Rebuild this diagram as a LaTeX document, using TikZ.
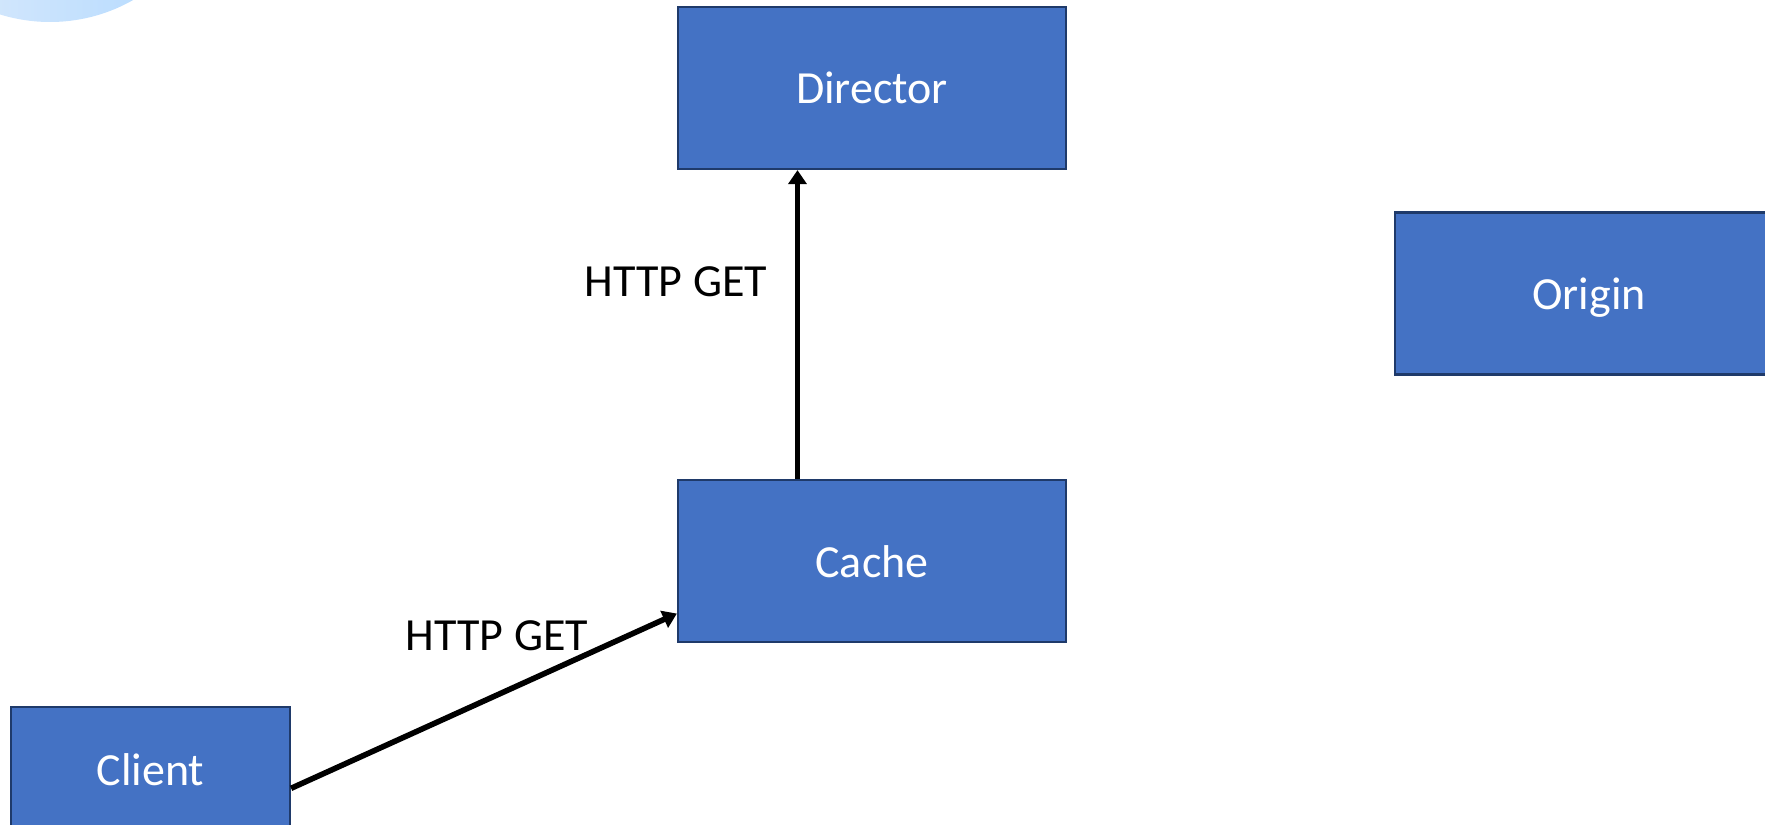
\documentclass[tikz,border=0pt]{standalone}
\usepackage{fontspec}
\setmainfont{Carlito}
\usetikzlibrary{arrows.meta,calc}
\definecolor{boxfill}{HTML}{4472C4}
\definecolor{boxline}{HTML}{1F3A6A}
\definecolor{bubleft}{HTML}{E2EDFB}
\definecolor{bubright}{HTML}{AFD8FF}
\tikzset{
  box/.style={draw=boxline, line width=1.1pt, fill=boxfill, text=white,
    minimum width=194pt, minimum height=81pt, inner sep=0pt,
    text height=16pt, text depth=0pt,
    font=\fontsize{23}{28}\selectfont},
  smallbox/.style={box, minimum width=139.5pt, minimum height=62pt},
  arr/.style={line width=2.8pt, -{Triangle[width=9pt,length=7pt]}},
  lbl/.style={font=\fontsize{23}{28}\selectfont, anchor=base, inner sep=0pt}
}
\begin{document}
\begin{tikzpicture}[x=0.5pt,y=-0.5pt]
  \useasboundingbox (0,0) rectangle (1765,824);
  \clip (0,0) rectangle (1765,824);
  % decorative bubble in the corner
  \shade[left color=bubleft, right color=bubright] (50,-146) circle[radius=168];
  % components
  \node[box] (director) at (872,88) {Director};
  \node[box] (cache) at (872,561) {Cache};
  \node[box] (origin) at (1589,293.5) {Origin};
  \node[smallbox] (client) at (150.5,769) {Client};
  % requests
  \draw[arr] ($(client.north east)!0.653!(client.south east)$)
          -- ($(cache.north west)!0.82!(cache.south west)$);
  \draw[arr] ($(cache.north west)!0.309!(cache.north east)$)
          -- ($(director.south west)!0.309!(director.south east)$);
  \node[lbl] (get1) at (676,296) {HTTP GET};
  \node[lbl] (get2) at (497,650) {HTTP GET};
\end{tikzpicture}
\end{document}
